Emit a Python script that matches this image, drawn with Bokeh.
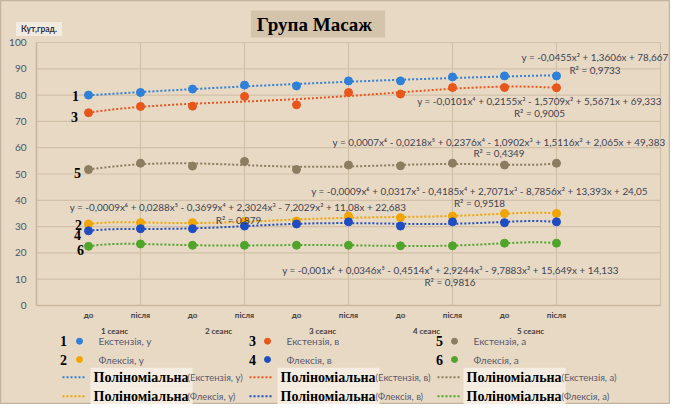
import numpy as np
from bokeh.plotting import figure
from bokeh.models import Label, Range1d
from bokeh.embed import file_html
from bokeh.resources import INLINE

# ---------------- data ----------------
x_vals = [1, 2, 3, 4, 5, 6, 7, 8, 9, 10]
phase_labels = ["до", "після", "до", "після", "до", "після", "до", "після", "до", "після"]
session_ticks = [1.5, 3.5, 5.5, 7.5, 9.5]
session_labels = ["1 сеанс", "2 сеанс", "3 сеанс", "4 сеанс", "5 сеанс"]
y_ticks = [0, 10, 20, 30, 40, 50, 60, 70, 80, 90, 100]
x_grid_ticks = [0, 2, 4, 6, 8, 10, 12]

ext_u = [80.0, 81.0, 82.3, 83.8, 83.5, 85.4, 85.4, 86.9, 87.3, 87.3]
flex_u = [31.0, 31.5, 31.5, 32.0, 32.1, 34.0, 33.4, 34.0, 35.0, 35.0]
ext_v = [73.3, 75.7, 75.8, 79.5, 76.3, 81.0, 80.4, 82.9, 82.9, 82.8]
flex_v = [28.4, 29.2, 29.2, 30.2, 31.0, 31.8, 30.2, 31.8, 31.5, 31.8]
ext_a = [51.7, 54.1, 53.0, 54.8, 51.7, 53.4, 53.1, 54.1, 53.4, 54.1]
flex_a = [22.5, 23.4, 22.9, 22.9, 22.9, 22.9, 22.7, 22.7, 23.7, 23.7]

series_names = ["Екстензія, у", "Флексія, у", "Екстензія, в", "Флексія, в", "Екстензія, а", "Флексія, а"]
series_nums = ["1", "2", "3", "4", "5", "6"]
series_vals = [ext_u, flex_u, ext_v, flex_v, ext_a, flex_a]
trend_degree = [2, 6, 4, 6, 6, 6]

eq_texts = [
    "y = -0,0455x² + 1,3606x + 78,667",
    "y = -0,0101x⁴ + 0,2155x³ - 1,5709x² + 5,5671x + 69,333",
    "y = 0,0007x⁶ - 0,0218x⁵ + 0,2376x⁴ - 1,0902x³ + 1,5116x² + 2,065x + 49,383",
    "y = -0,0009x⁶ + 0,0317x⁵ - 0,4185x⁴ + 2,7071x³ - 8,7856x² + 13,393x + 24,05",
    "y = -0,0009x⁶ + 0,0288x⁵ - 0,3699x⁴ + 2,3024x³ - 7,2029x² + 11,08x + 22,683",
    "y = -0,001x⁶ + 0,0346x⁵ - 0,4514x⁴ + 2,9244x³ - 9,7883x² + 15,649x + 14,133",
]
r2_texts = ["R² = 0,9733", "R² = 0,9005", "R² = 0,4349", "R² = 0,9518", "R² = 0,879", "R² = 0,9816"]

title_text = "Група Масаж"
y_title = "Кут,град."
trend_word = "Поліноміальна"

# ---------------- style / layout ----------------
colors = ["#2e80d8", "#f0a500", "#e8561a", "#1f4cc0", "#8c7c60", "#4ea52a"]
BG = "#e8d9c5"
GRID = "#d2c1a9"
AXIS = "#c9b79d"
TXT = "#44546a"
EQ = "#3d4352"
SERIF = "Liberation Serif"
SANS = "Lato"

W, H = 670, 404
OX, OY = 3, 1          # where the figure lands in the picture

# picture pixel -> data coordinate helpers (plot area: x 39..663, y 43..306)
def dx(px):
    return (px - 39.0) / 52.0

def dy(py):
    return (306.0 - py) / 2.63

p = figure(width=W, height=H,
           x_range=Range1d(dx(OX), dx(OX + W)), y_range=Range1d(dy(OY + H), dy(OY)),
           x_axis_type=None, y_axis_type=None,
           output_backend="svg", toolbar_location=None, min_border=0)
p.background_fill_color = BG
p.border_fill_color = BG
p.outline_line_color = "#c4b49e"
p.outline_line_width = 1.5

# grid lines of the plot area
p.segment(x0=[0] * len(y_ticks), y0=y_ticks, x1=[12] * len(y_ticks), y1=y_ticks,
          line_color=GRID, line_width=1.2)
p.segment(x0=x_grid_ticks, y0=[0] * len(x_grid_ticks), x1=x_grid_ticks, y1=[100] * len(x_grid_ticks),
          line_color=GRID, line_width=1.2)
# axis lines
p.segment(x0=[0, 0], y0=[0, 0], x1=[0, 12], y1=[100, 0], line_color=AXIS, line_width=1.5)

def lab(x, y, text, size="9px", font=SANS, color=EQ, align="center", style="normal", **kw):
    l = Label(x=x, y=y, text=text, text_align=align, text_baseline="middle",
              text_font=font, text_font_size=size, text_color=color, text_font_style=style, **kw)
    p.add_layout(l)
    return l

# tick labels (in data coordinates, offset by a few pixels from the axes)
for t in y_ticks:
    lab(dx(29), t, str(t), size="10px", color=TXT, align="right")
for x, t in zip(x_vals, phase_labels):
    lab(x, dy(315), t, size="8px", color="#404040", style="bold")
for x, t in zip(session_ticks, session_labels):
    lab(x, dy(331), t, size="8px", color="#404040", style="bold")

# trendlines + points
xs_fine = np.linspace(1, 10, 200)
for vals, deg, c in zip(series_vals, trend_degree, colors):
    coef = np.polyfit(x_vals, vals, deg)
    p.line(xs_fine, np.polyval(coef, xs_fine), line_color=c, line_width=2, line_dash="2 2")
for vals, c in zip(series_vals, colors):
    p.scatter(x_vals, vals, size=8, fill_color=c, line_color=c)

# equations
eq_pos = [(597.5, 57.7), (542, 101), (501.5, 142), (482, 191.7), (240.5, 207.7), (453, 270)]
r2_pos = [(597.5, 70.3), (542, 113.3), (501.5, 153.3), (482, 203.7), (241, 220), (452.5, 282.3)]
for t, (px, py) in zip(eq_texts, eq_pos):
    lab(dx(px), dy(py), t, size="9.9px")
for t, (px, py) in zip(r2_texts, r2_pos):
    lab(dx(px), dy(py), t, size="9.9px")

# series numbers near first points
num_pos = [(78, 96.5), (81, 225), (77, 117.5), (80, 235), (80, 173.5), (83, 250)]
for t, (px, py) in zip(series_nums, num_pos):
    lab(dx(px), dy(py), t, size="14px", font=SERIF, color="black", style="bold")

# title and axis name
lab(dx(320.5), dy(24.5), title_text, size="19px", font=SERIF, color="black", style="bold",
    background_fill_color="#d5c4ac", padding=dict(left=6, right=13, top=3, bottom=3))
lab(dx(41.5), dy(29.5), y_title, size="8.5px", color="#303040", style="bold",
    background_fill_color="#f3ebe0", padding=dict(left=5, right=5, top=2, bottom=2))

# custom legend
col_num = [66, 255, 442]
col_dot = [82, 270, 457]
col_txt = [101, 289, 476]
row_y = [341.7, 360]
order = [[0, 2, 4], [1, 3, 5]]
for r, idxs in enumerate(order):
    for c, i in enumerate(idxs):
        lab(dx(col_num[c]), dy(row_y[r]), series_nums[i], size="14px", font=SERIF, color="black", style="bold")
        p.scatter([dx(col_dot[c])], [dy(row_y[r])], size=6, fill_color=colors[i], line_color=colors[i])
        lab(dx(col_txt[c]), dy(row_y[r]), series_names[i], size="10px", color="#5a5a6e", align="left")

line_x0 = [65, 252, 440]
line_x1 = [87, 276, 463]
poly_x = [93, 280, 466]
paren_x = [190, 378, 564]
trend_row_y = [377.7, 396.7]
for r, idxs in enumerate(order):
    for c, i in enumerate(idxs):
        yy = trend_row_y[r]
        p.segment([dx(line_x0[c])], [dy(yy)], [dx(line_x1[c])], [dy(yy)], line_color=colors[i],
                  line_width=2, line_dash="2 2")
        lab(dx(poly_x[c]), dy(yy), trend_word, size="14px", font=SERIF, color="black", style="bold",
            align="left", background_fill_color="#f5ede2",
            padding=dict(left=3, right=4, top=2, bottom=2))
        lab(dx(paren_x[c]), dy(yy), "(" + series_names[i] + ")", size="9.5px", color="#5a5a6e", align="left")

open("out.html", "w").write(file_html(p, INLINE))
